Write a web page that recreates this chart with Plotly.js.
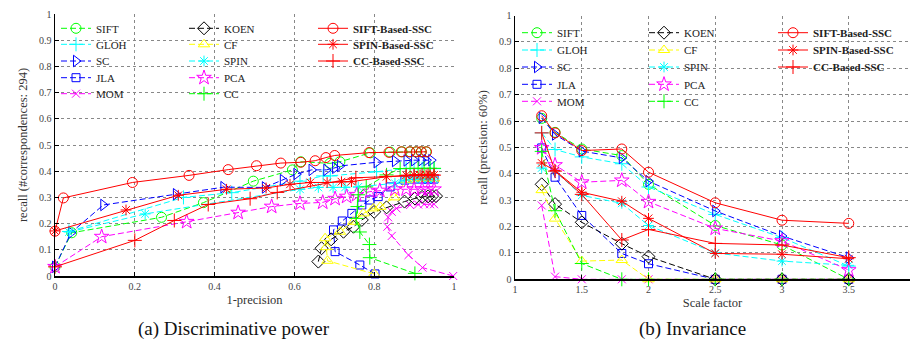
<!DOCTYPE html>
<html><head><meta charset="utf-8">
<script src="https://cdn.plot.ly/plotly-3.0.1.min.js"></script>
<style>html,body{margin:0;padding:0;background:#fff}#chart{width:910px;height:341px}</style>
</head><body><div id="chart"></div>
<script>
// ---------- labels ----------
const methods = ['SIFT','GLOH','SC','JLA','MOM','KOEN','CF','SPIN','PCA','CC','SIFT-Based-SSC','SPIN-Based-SSC','CC-Based-SSC'];
const dpXTicks = [0,0.2,0.4,0.6,0.8,1];
const yTicks = [0,0.1,0.2,0.3,0.4,0.5,0.6,0.7,0.8,0.9,1];
const invXTicks = [1,1.5,2,2.5,3,3.5];

// ---------- (a) Discriminative power: x = 1-precision, y = recall ----------
const dpSIFTx = [0,0.042,0.267,0.372,0.497,0.595,0.616,0.689,0.714,0.79,0.84,0.87,0.89,0.905,0.918,0.93];
const dpSIFTy = [0.035,0.165,0.224,0.28,0.362,0.405,0.436,0.43,0.436,0.47,0.473,0.474,0.474,0.474,0.474,0.474];
const dpGLOHx = [0.035,0.322,0.443,0.614,0.672,0.69,0.806,0.88,0.9,0.92,0.94,0.95];
const dpGLOHy = [0.17,0.3,0.318,0.362,0.382,0.382,0.398,0.41,0.41,0.41,0.41,0.41];
const dpSCx = [0,0.04,0.121,0.303,0.422,0.526,0.571,0.605,0.643,0.68,0.702,0.714,0.806,0.852,0.881,0.9,0.918,0.931,0.943];
const dpSCy = [0.035,0.165,0.271,0.312,0.339,0.338,0.366,0.389,0.405,0.405,0.413,0.42,0.434,0.439,0.441,0.442,0.442,0.442,0.442];
const dpJLAx = [0.802,0.764,0.702,0.698,0.72,0.744,0.769,0.789,0.81,0.84,0.877,0.9,0.92,0.935,0.95];
const dpJLAy = [0.008,0.042,0.093,0.176,0.21,0.239,0.271,0.29,0.303,0.34,0.366,0.37,0.37,0.37,0.37];
const dpMOMx = [0.998,0.921,0.886,0.844,0.833,0.835,0.844,0.856,0.89,0.91,0.925,0.94,0.95];
const dpMOMy = [0,0.032,0.08,0.153,0.188,0.224,0.245,0.258,0.271,0.273,0.274,0.274,0.274];
const dpKOENx = [0.66,0.668,0.692,0.723,0.748,0.769,0.8,0.831,0.876,0.902,0.92,0.935,0.945,0.955];
const dpKOENy = [0.055,0.106,0.14,0.169,0.188,0.214,0.245,0.262,0.284,0.296,0.302,0.304,0.305,0.305];
const dpCFx = [0.8,0.683,0.68,0.677,0.714,0.748,0.773,0.798,0.815,0.85,0.881,0.9,0.92,0.935,0.95];
const dpCFy = [0.008,0.058,0.11,0.144,0.169,0.207,0.239,0.258,0.264,0.3,0.366,0.372,0.372,0.372,0.372];
const dpSPINx = [0.035,0.226,0.614,0.66,0.697,0.727,0.76,0.852,0.876,0.9,0.92,0.935,0.95];
const dpSPINy = [0.168,0.237,0.331,0.338,0.338,0.338,0.34,0.354,0.366,0.37,0.37,0.37,0.37];
const dpPCAx = [0,0.117,0.33,0.459,0.543,0.614,0.671,0.702,0.731,0.756,0.789,0.814,0.852,0.88,0.9,0.92,0.935,0.95];
const dpPCAy = [0.035,0.15,0.207,0.242,0.265,0.277,0.281,0.295,0.303,0.31,0.322,0.326,0.331,0.331,0.331,0.331,0.331,0.331];
const dpCCx = [0.902,0.789,0.788,0.764,0.755,0.758,0.76,0.78,0.831,0.865,0.89,0.91,0.925,0.94,0.95];
const dpCCy = [0.01,0.07,0.12,0.168,0.22,0.265,0.31,0.34,0.386,0.41,0.411,0.411,0.411,0.411,0.411];
const dpSIFTSSCx = [0,0.021,0.194,0.336,0.434,0.505,0.566,0.616,0.652,0.679,0.701,0.787,0.837,0.868,0.889,0.906,0.918,0.931];
const dpSIFTSSCy = [0.171,0.298,0.357,0.384,0.406,0.421,0.431,0.434,0.44,0.452,0.46,0.471,0.472,0.474,0.474,0.474,0.474,0.474];
const dpSPINSSCx = [0,0.178,0.309,0.43,0.529,0.589,0.64,0.682,0.718,0.743,0.831,0.88,0.9,0.915,0.93,0.94,0.95];
const dpSPINSSCy = [0.172,0.252,0.308,0.331,0.336,0.35,0.357,0.357,0.36,0.36,0.379,0.385,0.386,0.386,0.386,0.386,0.386];
const dpCCSSCx = [0,0.2,0.299,0.384,0.489,0.557,0.754,0.83,0.88,0.9,0.92,0.935,0.95];
const dpCCSSCy = [0.035,0.136,0.212,0.273,0.295,0.319,0.375,0.38,0.383,0.384,0.385,0.385,0.385];

// ---------- (b) Invariance: x = scale factor, y = recall (precision 60%) ----------
const scaleFactors = [1.2,1.3,1.5,1.8,2,2.5,3,3.5];
const invSIFT = [0.61,0.557,0.494,0.469,0.36,0.204,0.13,0];
const invGLOH = [0.555,0.492,0.464,0.438,0.35,0.246,0.158,0.05];
const invSC = [0.612,0.549,0.486,0.46,0.372,0.259,0.164,0.082];
const invJLA = [0.498,0.387,0.242,0.098,0.059,0,0,0];
const invMOM = [0.28,0.01,0,0,0,0,0,0];
const invKOEN = [0.36,0.285,0.216,0.135,0.086,0,0,0];
const invCF = [0.338,0.23,0.069,0.073,0,0,0,0];
const invSPIN = [0.422,0.41,0.318,0.288,0.204,0.1,0.069,0.053];
const invPCA = [0.498,0.433,0.368,0.375,0.294,0.193,0.145,0.035];
const invCC = [0.485,0.26,0.06,0,0,0,0,0];
const invSIFTSSC = [0.62,0.555,0.488,0.494,0.406,0.29,0.224,0.212];
const invSPINSSC = [0.441,0.412,0.33,0.296,0.231,0.098,0.095,0.078];
const invCCSSC = [0.555,0.41,0.322,0.149,0.189,0.136,0.13,0.082];

// ---------- styles ----------
const colors = ['#00ff00','#00ffff','#0000ff','#0000ff','#ff00ff','#000000','#ffff00','#00ffff','#ff00ff','#00ff00','#ff0000','#ff0000','#ff0000'];
const symbols = ['circle-open','cross-thin-open','triangle-right-open','square-open','x-thin-open','diamond-open','triangle-up-open','asterisk-open','star-open','cross-thin-open','circle-open','asterisk-open','cross-thin-open'];
const msizes = [10,10,10,8,8,10,10,9,11,10,10,9,10];
const solid = [false,false,false,false,false,false,false,false,false,false,true,true,true];

const dpX = [dpSIFTx,dpGLOHx,dpSCx,dpJLAx,dpMOMx,dpKOENx,dpCFx,dpSPINx,dpPCAx,dpCCx,dpSIFTSSCx,dpSPINSSCx,dpCCSSCx];
const dpY = [dpSIFTy,dpGLOHy,dpSCy,dpJLAy,dpMOMy,dpKOENy,dpCFy,dpSPINy,dpPCAy,dpCCy,dpSIFTSSCy,dpSPINSSCy,dpCCSSCy];
const invY = [invSIFT,invGLOH,invSC,invJLA,invMOM,invKOEN,invCF,invSPIN,invPCA,invCC,invSIFTSSC,invSPINSSC,invCCSSC];

const FONT = 'Liberation Serif';
const W = 910, H = 341;
const traces = [];
const layout = {
  width: W, height: H,
  margin: {l:0, r:0, t:0, b:0},
  paper_bgcolor: '#fff', plot_bgcolor: 'rgba(0,0,0,0)',
  showlegend: true,
  font: {family: FONT, size: 10, color: '#333'},
  annotations: [
    {text:'(a) Discriminative power', xref:'paper', yref:'paper', x:234/W, y:1-329/H, xanchor:'center', yanchor:'middle', showarrow:false, font:{family:FONT, size:19, color:'#111'}},
    {text:'(b) Invariance', xref:'paper', yref:'paper', x:692/W, y:1-329/H, xanchor:'center', yanchor:'middle', showarrow:false, font:{family:FONT, size:19, color:'#111'}}
  ]
};
function axisBase(){
  return {showline:true, linecolor:'#000', linewidth:1.5, mirror:false, zeroline:false,
    showgrid:true, gridcolor:'#888', griddash:'dot', gridwidth:1,
    ticks:'inside', ticklen:4, tickcolor:'#000', tickfont:{family:FONT, size:10, color:'#444'}, automargin:false, fixedrange:true};
}
layout.xaxis = Object.assign(axisBase(), {domain:[55/W, 454/W], range:[0,1], tickvals:dpXTicks, ticktext:dpXTicks.map(String), anchor:'y',
  title:{text:'1-precision', font:{family:FONT, size:12.5, color:'#333'}, standoff:4}});
layout.yaxis = Object.assign(axisBase(), {domain:[1-276/H, 1-14/H], range:[0,1], tickvals:yTicks, ticktext:yTicks.map(String), anchor:'x',
  title:{text:'recall (#correspondences: 294)', font:{family:FONT, size:12.5, color:'#333'}, standoff:8}});
layout.xaxis2 = Object.assign(axisBase(), {domain:[515/W, 1], range:[1, 1+(W-515)/133.5], tickvals:invXTicks, ticktext:invXTicks.map(String), anchor:'y2',
  title:{text:'Scale factor', font:{family:FONT, size:12.5, color:'#333'}, standoff:4}});
layout.yaxis2 = Object.assign(axisBase(), {domain:[1-279.3/H, 1-15.5/H], range:[0,1], tickvals:yTicks, ticktext:yTicks.map(String), anchor:'x2',
  title:{text:'recall (precision: 60%)', font:{family:FONT, size:12.5, color:'#333'}, standoff:8}});

const legPos = [
  {cols:[61,189,318], rows:[28.3,44.3,61,77.7,93.7]},
  {cols:[522,649,778], rows:[32.7,50,67,84.3,101.3]}
];
methods.forEach((m, i) => {
  const name = solid[i] ? '<b>'+m+'</b>' : m;
  [0,1].forEach(p => {
    const legIdx = p*13 + i + 1;
    const legKey = legIdx === 1 ? 'legend' : 'legend'+legIdx;
    const col = Math.floor(i/5), row = i%5;
    layout[legKey] = {x:(legPos[p].cols[col]-5)/W, y:1-legPos[p].rows[row]/H, xanchor:'left', yanchor:'middle',
      bgcolor:'rgba(0,0,0,0)', borderwidth:0, itemwidth:30, font:{family:FONT, size:11, color:'#222'}, itemclick:false, itemdoubleclick:false};
    traces.push({
      type:'scatter', mode:'lines+markers', name:name,
      x: p===0 ? dpX[i] : scaleFactors, y: p===0 ? dpY[i] : invY[i],
      xaxis: p===0 ? 'x' : 'x2', yaxis: p===0 ? 'y' : 'y2',
      legend: legKey, cliponaxis:false,
      line:{color:colors[i], width:1, dash: solid[i] ? 'solid' : '6px,3px'},
      marker:{symbol:symbols[i], size:msizes[i], color:colors[i], line:{color:colors[i], width:1}}
    });
  });
});
Plotly.newPlot('chart', traces, layout, {staticPlot:true, displayModeBar:false});
</script></body></html>
